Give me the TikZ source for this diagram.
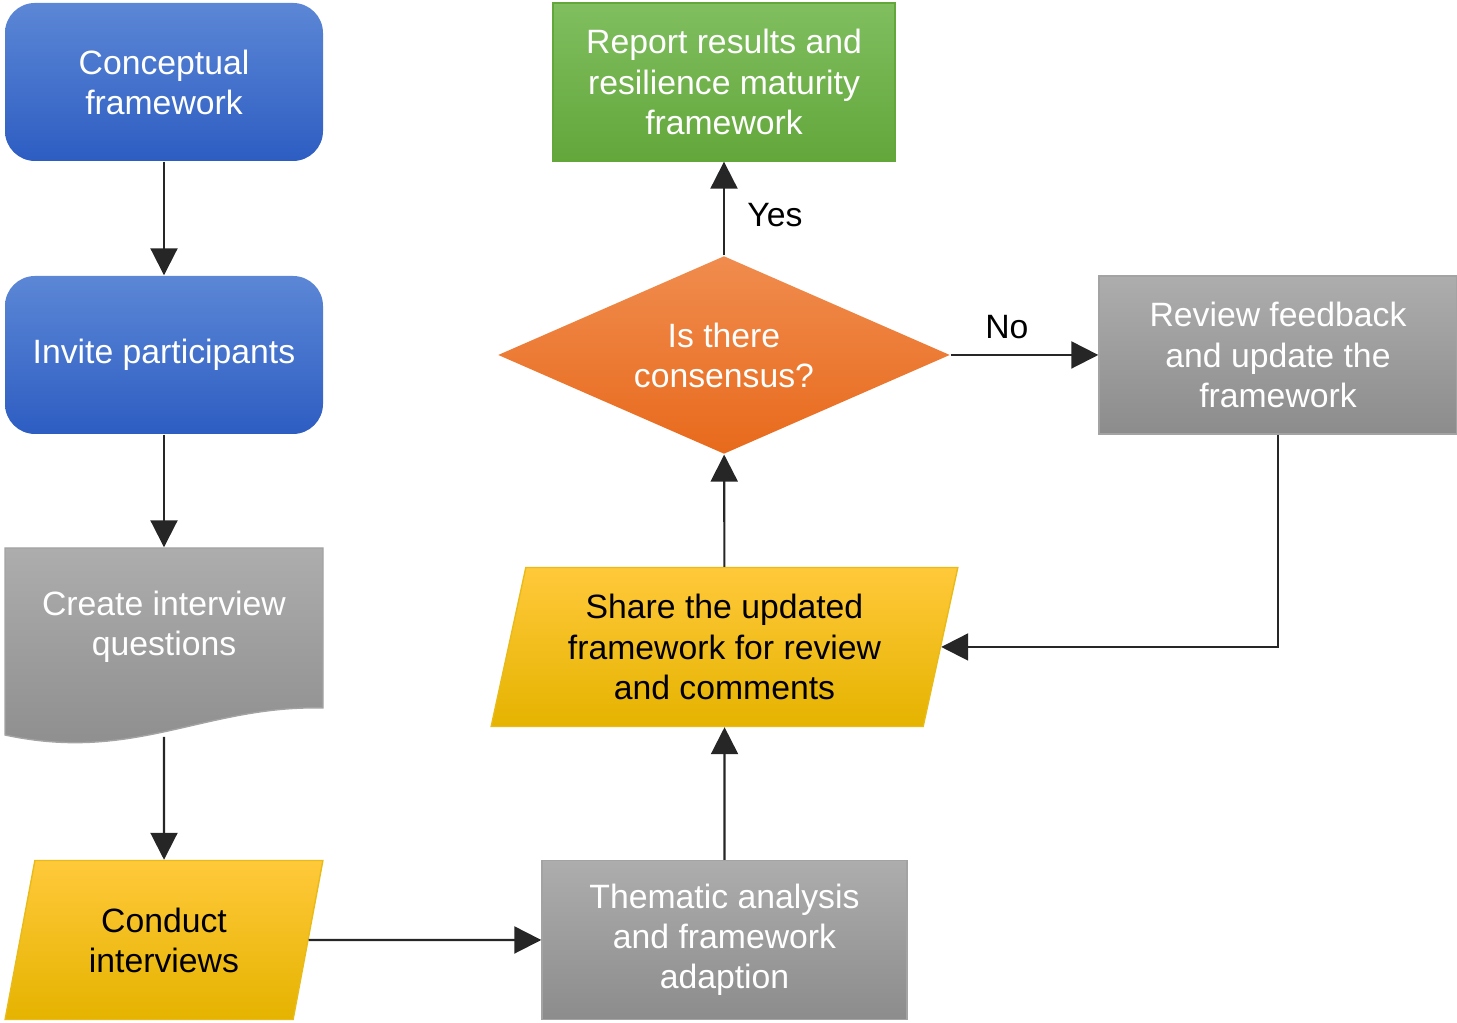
\documentclass[tikz,border=0pt]{standalone}
\usepackage{fontspec}
\setmainfont{Liberation Sans}
\usetikzlibrary{arrows.meta,shapes.geometric}

\definecolor{bluetop}{HTML}{5C87D6}
\definecolor{bluebot}{HTML}{2D5DC2}
\definecolor{graytop}{HTML}{ADADAD}
\definecolor{graybot}{HTML}{8C8C8C}
\definecolor{yeltop}{HTML}{FFC93A}
\definecolor{yelbot}{HTML}{E5B300}
\definecolor{orgtop}{HTML}{F08C4E}
\definecolor{orgbot}{HTML}{E86A1C}
\definecolor{grntop}{HTML}{80BE5F}
\definecolor{grnbot}{HTML}{63A73B}

\tikzset{
  box/.style={align=center, inner sep=2pt, font=\fontsize{9.6}{11.4}\selectfont,
    minimum height=1.58cm},
  startbox/.style={box, rectangle, rounded corners=0.3cm, text=white,
    top color=bluetop, bottom color=bluebot, minimum width=3.18cm},
  procbox/.style={box, rectangle, text=white, draw=graybot!80,
    top color=graytop, bottom color=graybot},
  iobox/.style={box, trapezium, trapezium left angle=76.5, trapezium right angle=103.5,
    trapezium stretches=true, minimum height=1.59cm, draw=yelbot!90,
    top color=yeltop, bottom color=yelbot},
  decbox/.style={box, diamond, aspect=2.28, inner sep=0pt, text=white,
    minimum width=4.52cm, minimum height=1.98cm,
    top color=orgtop, bottom color=orgbot},
  endbox/.style={box, rectangle, text=white, draw=grnbot,
    top color=grntop, bottom color=grnbot},
  lbl/.style={black, font=\fontsize{9.6}{11.4}\selectfont},
  arr/.style={-{Triangle[length=0.27cm,width=0.27cm]}, black!85, line width=0.6pt}
}

\begin{document}
\begin{tikzpicture}
  \useasboundingbox (0,0) rectangle (14.57,10.23);

  % left column
  \node[startbox] (concept) at (1.64,9.41) {Conceptual\\framework};
  \node[startbox] (invite) at (1.64,6.68) {Invite participants};
  \shade[top color=graytop, bottom color=graybot, draw=graybot!80]
    (0.05,4.75) -- (3.23,4.75) -- (3.23,3.15)
    .. controls (2.05,3.18) and (1.35,2.60) .. (0.05,2.88) -- cycle;
  \node[box, text=white, minimum width=3.18cm] (create) at (1.64,3.96) {Create interview\\questions};
  \coordinate (createb) at (1.64,2.86);
  \node[iobox, minimum width=3.18cm] (conduct) at (1.64,0.83) {Conduct\\interviews};

  % right part
  \node[procbox, minimum width=3.65cm, minimum height=1.59cm] (thematic) at (7.245,0.83)
    {Thematic analysis\\and framework\\adaption};
  \node[iobox, minimum width=4.67cm] (share) at (7.245,3.76)
    {Share the updated\\framework for review\\and comments};
  \node[decbox] (consensus) at (7.24,6.68) {Is there\\consensus?};
  \node[endbox, minimum width=3.42cm] (report) at (7.24,9.41)
    {Report results and\\resilience maturity\\framework};
  \node[procbox, minimum width=3.58cm] (review) at (12.78,6.68)
    {Review feedback\\and update the\\framework};

  \path[arr]
    (concept) edge (invite)
    (invite) edge (create.north)
    (createb) edge (conduct)
    (conduct.east) edge (thematic)
    (thematic) edge (share)
    (share) edge (consensus)
    (consensus) edge node[right, lbl, xshift=3pt, yshift=-2pt] {Yes} (report)
    (consensus) edge node[above, lbl, xshift=-5pt, yshift=1pt] {No} (review);
  \draw[arr] (review.south) |- (share.east);
\end{tikzpicture}
\end{document}
